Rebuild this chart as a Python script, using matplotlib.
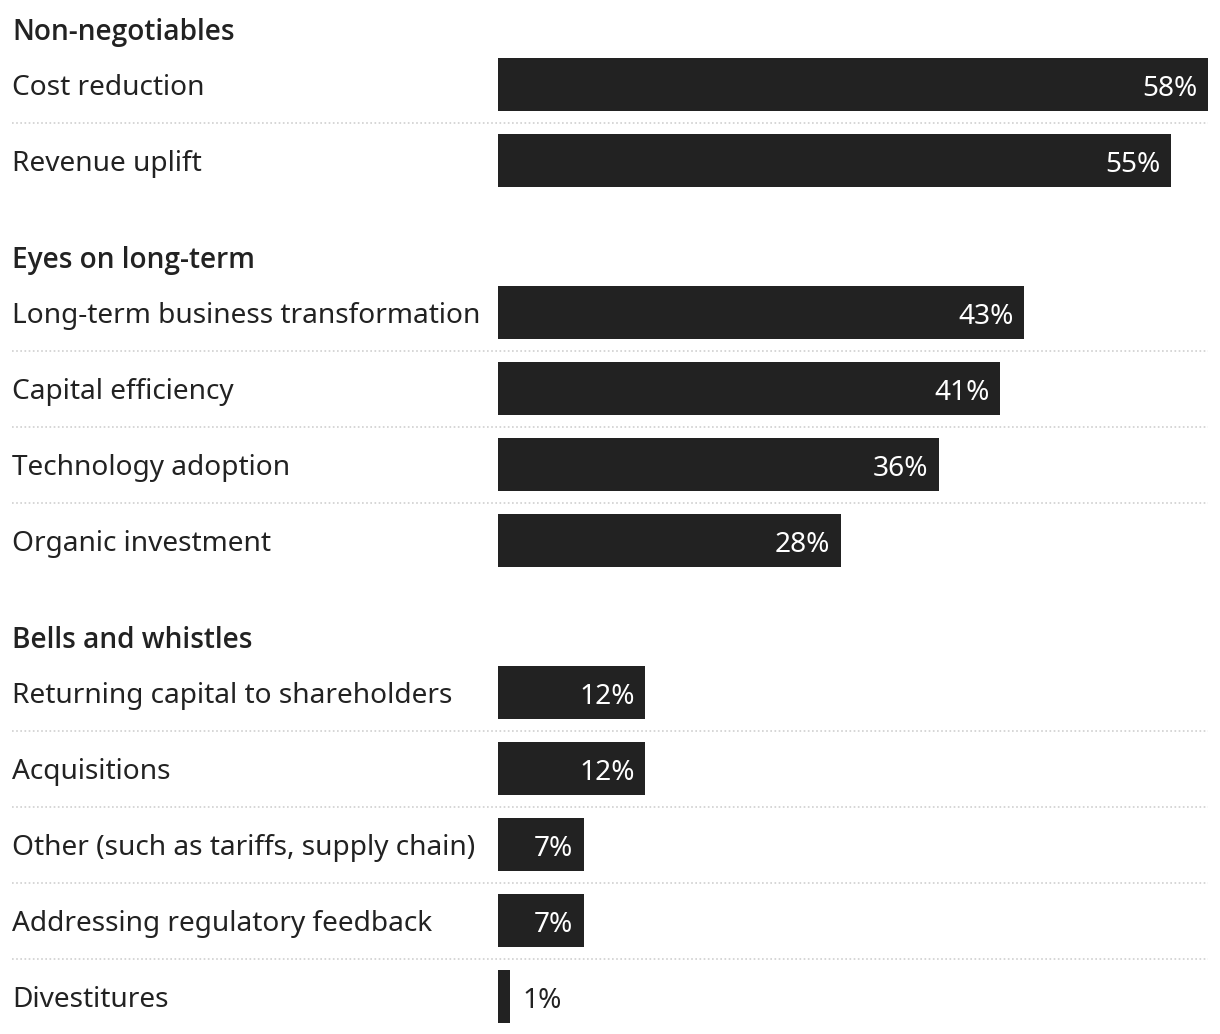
import matplotlib.pyplot as plt
import matplotlib.transforms as mtransforms

plt.rcParams['font.family'] = ['Noto Sans', 'DejaVu Sans']

groups = ['Non-negotiables', 'Eyes on long-term', 'Bells and whistles']
group_labels = [
    ['Cost reduction', 'Revenue uplift'],
    ['Long-term business transformation', 'Capital efficiency',
     'Technology adoption', 'Organic investment'],
    ['Returning capital to shareholders', 'Acquisitions',
     'Other (such as tariffs, supply chain)', 'Addressing regulatory feedback',
     'Divestitures'],
]
group_values = [
    [58, 55],
    [43, 41, 36, 28],
    [12, 12, 7, 7, 1],
]

bar_color = '#222222'
text_color = '#222222'
W, H = 1220, 1034
FS = 20.2

fig = plt.figure(figsize=(W / 100, H / 100), dpi=100)
# axes covers the bar area; one y unit = one row (76 px)
ax = fig.add_axes([498 / W, 0, 710 / W, 1])
ax.set_xlim(0, 58)
ax.set_ylim((H - 84.5) / 76, -84.5 / 76)
ax.axis('off')

# x in figure fraction, y in data
label_tr = mtransforms.blended_transform_factory(fig.transFigure, ax.transData)

k = 0
for gi, (gname, labels, values) in enumerate(zip(groups, group_labels, group_values)):
    ax.text(12 / W, k - 44.5 / 76, gname, transform=label_tr, ha='left', va='baseline',
            fontsize=FS, fontweight='semibold', family=['Open Sans', 'Noto Sans'],
            color=text_color)
    for i, (lab, val) in enumerate(zip(labels, values)):
        ax.barh(k, val, height=53 / 76, left=0, color=bar_color)
        ax.text(12 / W, k + 10.5 / 76, lab, transform=label_tr, ha='left', va='baseline',
                fontsize=FS, color=text_color)
        if val >= 5:
            ax.annotate(f'{val}%', xy=(val, k + 11.5 / 76), xytext=(-7.5, 0),
                        textcoords='offset points', ha='right', va='baseline',
                        fontsize=FS, color='white')
        else:
            ax.annotate(f'{val}%', xy=(val, k + 11.5 / 76), xytext=(8.5, 0),
                        textcoords='offset points', ha='left', va='baseline',
                        fontsize=FS, color=text_color)
        if i < len(labels) - 1:
            ax.plot([12 / W, 1208 / W], [k + 0.5, k + 0.5], transform=label_tr,
                    color='#cfcfcf', linewidth=1.2, linestyle=(0, (1, 1.5)),
                    clip_on=False)
        k += 1
    k += 1

fig.savefig('out.png', dpi=100)
